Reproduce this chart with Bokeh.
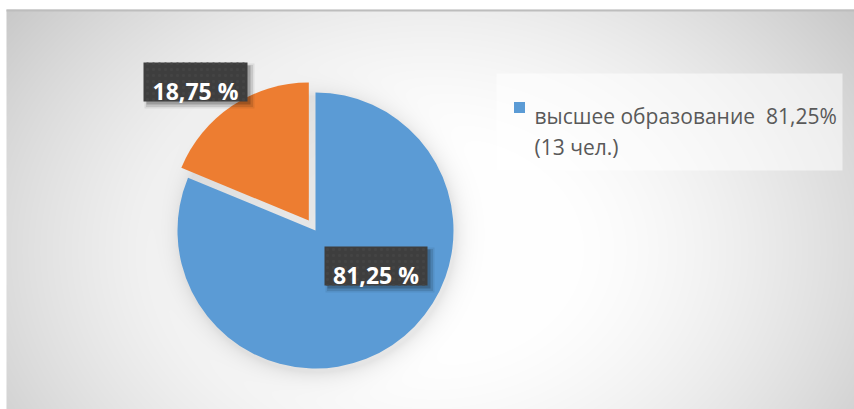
import numpy as np
from bokeh.plotting import figure
from bokeh.models import Range1d
from bokeh.core.properties import value
from bokeh.embed import file_html
from bokeh.resources import INLINE

# ---- data ----
categories = ["высшее образование", "другое"]
counts = [13, 3]
colors = ["#5B9BD5", "#ED7D31"]
legend_lines = ["высшее образование\u00a0 81,25%", "(13 чел.)"]

total = float(sum(counts))
shares = [c / total * 100 for c in counts]
label_texts = [("%.2f %%" % s).replace(".", ",") for s in shares]

# ---- layout (screen pixels) ----
W, H = 854, 409


def dy(screen_y):
    return H - screen_y


p = figure(width=W, height=H, x_range=Range1d(0, W), y_range=Range1d(0, H),
           output_backend="svg", toolbar_location=None, min_border=0)
p.axis.visible = False
p.grid.visible = False
p.outline_line_color = None
p.background_fill_color = "white"
p.border_fill_color = "white"

# ---- background: radial gradient + soft pie shadow ----
cx_s, cy_s, R = 315.0, 230.0, 138.0
BX0, BY0 = 6, 9
img_w, img_h = W - BX0, H - BY0
jj, ii = np.meshgrid(np.arange(img_w), np.arange(img_h))
sx = BX0 + jj + 0.5
sy = H - ii - 0.5
t = np.sqrt(((sx - 430) / 420.0) ** 2 + ((sy - 250) / 320.0) ** 2)
g = 255 - 58 * np.clip((t - 0.3) / 1.0, 0, 1) ** 1.5
d = np.sqrt((sx - (cx_s + 2)) ** 2 + (sy - (cy_s + 4)) ** 2) - R
g = g - 24 * np.exp(-np.clip(d, 0, None) / 9.0)
g = np.clip(g, 0, 255).astype(np.uint8)
img = np.empty((img_h, img_w), dtype=np.uint32)
view = img.view(dtype=np.uint8).reshape((img_h, img_w, 4))
view[:, :, 0] = g
view[:, :, 1] = g
view[:, :, 2] = g
view[:, :, 3] = 255
p.image_rgba(image=[img], x=BX0, y=0, dw=img_w, dh=img_h)
p.segment(x0=[BX0], y0=[dy(10)], x1=[W], y1=[dy(10)], line_color="#bdbdbd", line_width=2)

# ---- pie ----
start = np.pi / 2
angles = []
a = start
for c in counts:
    a2 = a - 2 * np.pi * c / total
    angles.append((a, a2))
    a = a2
explode = [0, 12]
for (a1, a2), col, ex in zip(angles, colors, explode):
    mid = (a1 + a2) / 2
    x = cx_s + ex * np.cos(mid)
    y = dy(cy_s) + ex * np.sin(mid)
    p.wedge(x=[x], y=[y], radius=R, start_angle=[a1], end_angle=[a2],
            direction="clock", fill_color=col, line_color=None)

# ---- data labels ----
label_boxes = [(375.5, 265.5, 103, 39), (195, 81.5, 104, 39)]
for (bx, by, bw, bh), txt in zip(label_boxes, label_texts):
    for off, grow, alpha in [(4, 6, 0.07), (4, 3, 0.10), (3, 0, 0.20)]:
        p.rect(x=[bx + off], y=[dy(by + off)], width=bw + grow, height=bh + grow,
               fill_color="black", fill_alpha=alpha, line_color=None)
    p.rect(x=[bx], y=[dy(by)], width=bw, height=bh, fill_color="#3e3e3e",
           line_color=None, hatch_pattern="dot", hatch_color="#444444",
           hatch_scale=6, hatch_weight=1)
    p.text(x=[bx], y=[dy(by + 8.5)], text=[txt], text_color="white",
           text_font=value("Open Sans"), text_font_style="bold",
           text_font_size="23px", text_align="center", text_baseline="alphabetic")

# ---- legend ----
p.rect(x=[669], y=[dy(121.5)], width=346, height=97, fill_color="white",
       fill_alpha=0.55, line_color=None)
p.rect(x=[519], y=[dy(107)], width=11, height=11, fill_color=colors[0], line_color=None)
p.text(x=[534, 534], y=[dy(115), dy(146)], text=legend_lines, text_color="#595959",
       text_font=value("Open Sans"), text_font_size="21px",
       text_align="left", text_baseline="alphabetic")

open("out.html", "w").write(file_html(p, INLINE))
